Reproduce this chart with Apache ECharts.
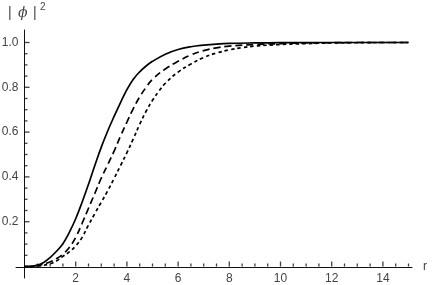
<!DOCTYPE html>
<html>
<head>
<meta charset="utf-8">
<script src="https://cdn.jsdelivr.net/npm/echarts@6/dist/echarts.min.js"></script>
<style>html,body{margin:0;padding:0;background:#fff;}#c{width:432px;height:285px;}</style>
</head>
<body>
<div id="c"></div>
<script>
// r values and |phi|^2
const rSolid = [0,0.25,0.5,0.75,1.0,1.25,1.5,1.75,2.0,2.25,2.5,2.75,3.0,3.25,3.5,3.75,4.0,4.25,4.5,4.75,5.0,5.5,6.0,6.5,7.0,7.5,8.0,9,10,11,12,13,14,15];
const ySolid = [0,0.001,0.006,0.018,0.04,0.068,0.102,0.152,0.213,0.287,0.367,0.452,0.533,0.605,0.67,0.732,0.79,0.836,0.869,0.895,0.916,0.948,0.969,0.981,0.988,0.993,0.996,0.998,0.999,1,1,1,1,1];

const rLong = [0,0.5,1.0,1.25,1.5,1.75,2.0,2.25,2.5,2.75,3.0,3.25,3.5,3.75,4.0,4.25,4.5,4.75,5.0,5.5,6.0,6.5,7.0,7.5,8.0,9,10,11,12,13,14,15];
const yLong = [0,0.004,0.02,0.035,0.055,0.085,0.13,0.193,0.26,0.327,0.395,0.455,0.515,0.582,0.645,0.705,0.757,0.8,0.836,0.882,0.916,0.944,0.964,0.976,0.984,0.991,0.995,0.998,0.999,1,1,1];

const rShort = [0,0.5,1.0,1.25,1.5,1.75,2.0,2.25,2.5,2.75,3.0,3.25,3.5,3.75,4.0,4.25,4.5,4.75,5.0,5.25,5.5,6.0,6.5,7.0,7.5,8.0,8.5,9,10,11,12,13,14,15];
const yShort = [0,0.002,0.012,0.025,0.045,0.065,0.092,0.13,0.185,0.237,0.287,0.338,0.393,0.45,0.508,0.57,0.635,0.693,0.742,0.783,0.818,0.868,0.904,0.933,0.953,0.967,0.977,0.984,0.991,0.995,0.998,0.999,1,1];

// tick positions
const xTickLabels = [2,4,6,8,10,12,14];
const xMinorTicks = [0.5,1,1.5,2.5,3,3.5,4.5,5,5.5,6.5,7,7.5,8.5,9,9.5,10.5,11,11.5,12.5,13,13.5,14.5,15];
const yTickLabels = [0.2,0.4,0.6,0.8,1.0];
const yMinorTicks = [0.05,0.1,0.15,0.25,0.3,0.35,0.45,0.5,0.55,0.65,0.7,0.75,0.85,0.9,0.95];

const xMajorStep = 2, xMajorMax = 14, xMax = 15;
const yMajorStep = 0.2, yMax = 1.0;
const xOuterMin = -0.332, xOuterMax = 15.137, yOuterMin = -0.05, yOuterMax = 1.056;

function pairs(xs, ys){ return xs.map((x,i)=>[x, ys[i]]); }

const chart = echarts.init(document.getElementById('c'), null, {renderer:'canvas'});
const FONT = 'Liberation Sans, Arial, sans-serif';
const labelFont = {fontFamily:FONT, fontSize:12, color:'#444'};
const AX = '#111';

function g(left, right, top, bottom){ return {left, right, top, bottom, containLabel:false, outerBoundsMode:'none'}; }
function hidden(gridIndex, min, max, extra){
  return Object.assign({gridIndex, type:'value', min, max,
    axisLine:{show:false, onZero:false}, axisTick:{show:false}, axisLabel:{show:false}, splitLine:{show:false}}, extra || {});
}
function tickSeries(data, size, offset){
  return {type:'scatter', xAxisIndex:0, yAxisIndex:0, data, symbol:'rect', symbolSize:size, symbolOffset:offset,
    itemStyle:{color:AX}, silent:true, clip:false, emphasis:{disabled:true}, z:3};
}

chart.setOption({
  animation:false,
  backgroundColor:'#fff',
  grid:[
    g(24.5, 23.5, 42.5, 18.5),   // 0: data (x 0..15, y 0..1)
    g(24.5, 49.1, 42.5, 18.5),   // 1: tick labels (x 0..14, y 0..1)
    g(16, 20, 30, 7)             // 2: axis lines crossing at zero
  ],
  xAxis:[
    hidden(0, 0, xMax),
    hidden(1, 0, xMajorMax, {interval:xMajorStep, position:'bottom',
      axisLabel:Object.assign({show:true, margin:6, showMinLabel:false, formatter:v=>String(v)}, labelFont)}),
    {gridIndex:2, type:'value', min:xOuterMin, max:xOuterMax, position:'bottom',
     axisLine:{show:true, onZero:true, lineStyle:{color:AX, width:1}},
     axisTick:{show:false}, axisLabel:{show:false}, splitLine:{show:false},
     name:'r', nameLocation:'end', nameGap:11,
     nameTextStyle:{fontFamily:FONT, fontSize:12, color:'#444', verticalAlign:'middle'}}
  ],
  yAxis:[
    hidden(0, 0, yMax),
    hidden(1, 0, yMax, {interval:yMajorStep, position:'left',
      axisLabel:Object.assign({show:true, margin:6, showMinLabel:false, formatter:v=>v.toFixed(1)}, labelFont)}),
    {gridIndex:2, type:'value', min:yOuterMin, max:yOuterMax, position:'left',
     axisLine:{show:true, onZero:true, lineStyle:{color:AX, width:1}},
     axisTick:{show:false}, axisLabel:{show:false}, splitLine:{show:false}}
  ],
  graphic:[
    {type:'text', left:8, top:6, style:{text:'| ', fontFamily:FONT, fontSize:14, fill:'#444'}},
    {type:'text', left:18, top:6, style:{text:'ϕ', fontFamily:'DejaVu Serif, serif', fontStyle:'italic', fontSize:14, fill:'#444'}},
    {type:'text', left:33, top:6, style:{text:'|', fontFamily:FONT, fontSize:14, fill:'#444'}},
    {type:'text', left:40, top:2, style:{text:'2', fontFamily:FONT, fontSize:10, fill:'#444'}}
  ],
  series:[
    tickSeries(xTickLabels.map(v=>[v,0]), [1.3,5], [0,-2.5]),
    tickSeries(xMinorTicks.map(v=>[v,0]), [1.3,3], [0,-1.5]),
    tickSeries(yTickLabels.map(v=>[0,v]), [5,1.3], [2.5,0]),
    tickSeries(yMinorTicks.map(v=>[0,v]), [3,1.3], [1.5,0]),
    {type:'line', xAxisIndex:0, yAxisIndex:0, data:pairs(rSolid,ySolid), smooth:0.4, showSymbol:false, symbol:'none', clip:false,
     lineStyle:{color:'#000', width:1.7, type:'solid'}},
    {type:'line', xAxisIndex:0, yAxisIndex:0, data:pairs(rLong,yLong), smooth:0.4, showSymbol:false, symbol:'none', clip:false,
     lineStyle:{color:'#000', width:1.7, type:[7,4]}},
    {type:'line', xAxisIndex:0, yAxisIndex:0, data:pairs(rShort,yShort), smooth:0.4, showSymbol:false, symbol:'none', clip:false,
     lineStyle:{color:'#000', width:1.7, type:[3.5,3]}}
  ]
});
</script>
</body>
</html>
